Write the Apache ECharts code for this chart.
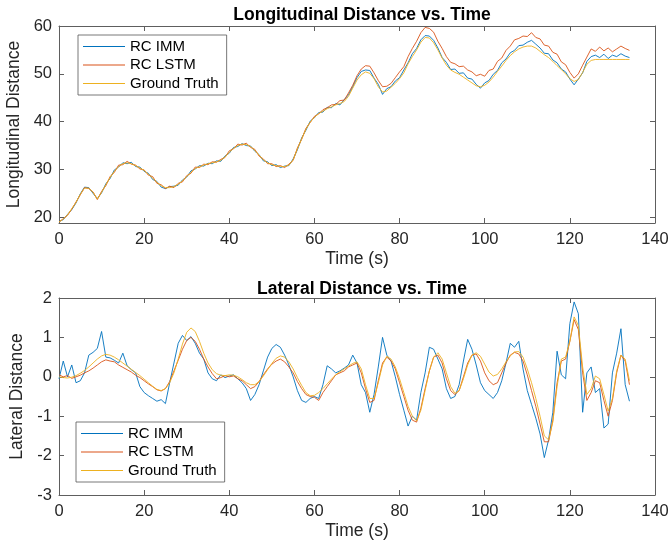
<html>
<head>
    <meta charset="utf-8">
    <title>Distance vs. Time</title>
    <script src="https://cdn.jsdelivr.net/npm/echarts@6.0.0/dist/echarts.min.js"></script>
    <style>
        body { margin: 0; background: #fff; }
        #chartmain { width: 668px; height: 545px; }
    </style>
</head>
<body>
    <div id="chartmain"></div>

    <script type="text/javascript">
        // time (s), one sample per second
        var time = [];
        for (var k = 0; k <= 134; k++) time.push(k);

        var seriesNames = ['RC IMM', 'RC LSTM', 'Ground Truth'];
        var xTicks = [0, 20, 40, 60, 80, 100, 120, 140];
        var lonTicks = [20, 30, 40, 50, 60];
        var latTicks = [-3, -2, -1, 0, 1, 2];

        // Longitudinal distance
        var lonImm = [19.1, 19.5, 20.6, 21.6, 23.0, 24.9, 26.3, 26.2, 25.0, 23.9,
            25.1, 27.0, 28.1, 29.9, 30.5, 31.4, 31.2, 31.5, 30.6, 30.5,
            29.6, 29.2, 27.9, 27.5, 26.3, 26.0, 26.4, 26.5, 26.7, 27.8,
            28.4, 29.7, 30.1, 30.8, 30.7, 31.3, 31.2, 31.8, 31.7, 32.8,
            33.4, 34.6, 34.8, 35.4, 35.0, 34.9, 33.8, 33.1, 31.8, 31.6,
            30.8, 31.0, 30.4, 30.7, 30.8, 32.2, 34.1, 36.6, 38.2, 40.1,
            40.8, 41.9, 42.0, 43.0, 42.9, 43.8, 43.5, 44.6, 45.6, 47.3,
            49.2, 50.5, 50.8, 50.7, 49.1, 47.8, 45.7, 46.9, 47.3, 48.5,
            49.2, 50.8, 52.3, 54.2, 55.3, 57.1, 58.0, 57.9, 57.0, 55.4,
            53.4, 52.4, 50.9, 51.0, 50.1, 50.2, 49.1, 48.9, 47.8, 47.0,
            48.1, 48.6, 49.9, 50.7, 52.3, 53.1, 54.4, 54.9, 55.9, 56.0,
            56.6, 57.0, 56.2, 55.4, 54.3, 54.2, 52.9, 52.3, 51.0, 50.4,
            48.9, 47.7, 48.9, 50.2, 52.6, 53.6, 53.9, 53.4, 54.1, 53.2,
            53.9, 53.6, 54.2, 53.7, 53.4];
        var lonLstm = [19.0, 19.7, 20.4, 21.7, 23.2, 24.7, 26.2, 26.0, 25.3, 23.7,
            25.4, 26.6, 28.5, 29.4, 30.9, 31.0, 31.7, 31.1, 30.9, 30.1,
            29.9, 28.8, 28.5, 27.1, 26.8, 26.0, 26.5, 26.2, 27.1, 27.4,
            28.7, 29.2, 30.5, 30.4, 31.1, 31.0, 31.6, 31.5, 32.1, 32.5,
            33.9, 34.3, 35.3, 35.1, 35.5, 34.6, 34.2, 32.8, 32.2, 31.2,
            31.2, 30.6, 30.8, 30.4, 31.1, 31.9, 34.5, 36.3, 38.6, 39.8,
            41.1, 41.6, 42.5, 42.9, 43.5, 43.6, 44.4, 44.5, 46.0, 47.6,
            49.6, 51.0, 51.7, 51.6, 50.2, 48.6, 47.3, 47.4, 48.0, 49.2,
            50.4, 51.5, 53.6, 55.3, 56.8, 58.6, 59.7, 59.5, 58.7, 56.8,
            55.3, 53.6, 52.4, 52.1, 51.5, 51.6, 50.8, 50.4, 49.6, 49.9,
            49.5, 50.7, 51.0, 52.6, 53.3, 54.9, 55.8, 57.1, 57.4, 57.9,
            57.8, 58.6, 57.6, 57.3, 56.0, 55.8, 54.5, 54.1, 52.5, 51.9,
            50.3, 49.1, 50.0, 51.8, 53.5, 55.2, 54.7, 55.6, 54.8, 55.4,
            54.6, 55.2, 55.8, 55.3, 54.9];
        var lonTruth = [19.0, 19.6, 20.5, 21.8, 23.1, 24.8, 26.1, 26.1, 25.2, 23.8,
            25.2, 26.8, 28.3, 29.6, 30.6, 31.2, 31.4, 31.2, 30.8, 30.3,
            29.8, 29.0, 28.2, 27.3, 26.6, 26.2, 26.2, 26.4, 26.9, 27.6,
            28.5, 29.4, 30.2, 30.6, 30.9, 31.2, 31.4, 31.6, 31.9, 32.6,
            33.6, 34.4, 35.0, 35.3, 35.2, 34.8, 34.0, 33.0, 32.0, 31.4,
            31.0, 30.8, 30.6, 30.6, 30.9, 32.0, 34.3, 36.4, 38.4, 39.9,
            40.9, 41.7, 42.2, 42.7, 43.1, 43.5, 43.8, 44.2, 45.3, 47.0,
            48.7, 49.8, 50.4, 50.1, 49.0, 47.3, 46.2, 46.4, 47.2, 48.0,
            49.0, 50.2, 52.1, 53.6, 55.0, 56.6, 57.6, 57.5, 56.5, 55.0,
            53.3, 51.8, 50.8, 50.3, 49.9, 49.3, 48.7, 48.1, 47.5, 47.3,
            47.6, 48.3, 49.3, 50.5, 51.6, 52.8, 53.8, 54.6, 55.2, 55.6,
            55.8, 55.8, 55.4, 54.7, 54.0, 53.4, 52.6, 51.7, 50.9, 50.0,
            49.0, 48.4, 48.8, 50.3, 52.0, 52.8, 53.0, 53.0, 53.0, 53.0,
            53.0, 53.0, 53.0, 53.0, 53.0];

        // Lateral distance
        var latImm = [-0.05, 0.4, 0.0, 0.3, -0.15, -0.1, 0.1, 0.55, 0.62, 0.72,
            1.15, 0.5, 0.48, 0.42, 0.35, 0.6, 0.28, 0.18, 0.1, -0.25,
            -0.4, -0.48, -0.55, -0.62, -0.58, -0.68, -0.15, 0.35, 0.85, 1.05,
            0.92, 1.02, 0.85, 0.6, 0.45, 0.1, -0.05, -0.1, 0.05, -0.02,
            0.02, 0.05, -0.05, -0.15, -0.3, -0.6, -0.45, -0.2, 0.15, 0.5,
            0.72, 0.82, 0.75, 0.55, 0.3, 0.0, -0.35, -0.6, -0.65, -0.55,
            -0.5, -0.55, -0.2, 0.28, 0.2, 0.1, 0.15, 0.22, 0.3, 0.55,
            0.35, -0.2, -0.4, -0.9, -0.45, 0.25, 1.0, 0.55, 0.4, 0.0,
            -0.45, -0.85, -1.25, -1.0, -1.1, -0.4, 0.1, 0.75, 0.7, 0.45,
            0.2, -0.3, -0.55, -0.5, -0.2, 0.4, 0.95, 0.7, 0.3, -0.15,
            -0.35, -0.45, -0.55, -0.4, -0.1, 0.35, 0.85, 0.75, 0.9, 0.2,
            -0.35, -0.7, -1.05, -1.45, -2.05, -1.6, -0.9, 0.65, 0.05, -0.05,
            1.35, 1.9, 1.6, -0.9, 0.1, 0.25, -0.4, -0.3, -1.3, -1.2,
            0.1, 0.6, 1.22, -0.2, -0.62];
        var latLstm = [0.05, 0.0, 0.03, -0.04, 0.0, 0.04, 0.1, 0.15, 0.22, 0.3,
            0.38, 0.43, 0.4, 0.38, 0.3, 0.24, 0.18, 0.12, 0.04, -0.02,
            -0.1, -0.18, -0.25, -0.33, -0.36, -0.3, -0.12, 0.15, 0.42, 0.7,
            0.92, 1.0, 0.9, 0.7, 0.45, 0.25, 0.08, -0.05, -0.02, 0.03,
            0.0, 0.02, -0.05, -0.1, -0.2, -0.3, -0.25, -0.12, 0.05, 0.2,
            0.32, 0.4, 0.45, 0.38, 0.25, 0.1, -0.12, -0.3, -0.45, -0.5,
            -0.52, -0.6, -0.4, -0.25, -0.1, 0.05, 0.1, 0.15, 0.25, 0.3,
            0.35, 0.1, -0.3, -0.65, -0.6, -0.1, 0.35, 0.5, 0.4, 0.2,
            -0.15, -0.5, -0.85, -1.1, -1.15, -0.8, -0.3, 0.15, 0.5, 0.55,
            0.35, -0.05, -0.35, -0.45, -0.35, 0.0, 0.35, 0.55, 0.58, 0.4,
            0.1, -0.1, -0.2, -0.15, 0.1, 0.35, 0.55, 0.62, 0.58, 0.4,
            0.05, -0.35, -0.75, -1.2, -1.65, -1.65, -1.1, -0.15, 0.4, 0.45,
            0.9, 1.45, 1.2, 0.1, -0.6, -0.4, -0.1, -0.15, -0.6, -1.0,
            -0.6, 0.1, 0.55, 0.4, -0.2];
        var latTruth = [0.0, -0.02, -0.03, -0.01, 0.03, 0.09, 0.16, 0.25, 0.35, 0.45,
            0.53, 0.57, 0.55, 0.5, 0.43, 0.35, 0.27, 0.19, 0.11, 0.03,
            -0.06, -0.15, -0.24, -0.32, -0.35, -0.3, -0.15, 0.1, 0.45, 0.83,
            1.13, 1.24, 1.15, 0.9, 0.6, 0.35, 0.18, 0.08, 0.04, 0.03,
            0.05, 0.04, 0.0, -0.07, -0.15, -0.2, -0.2, -0.12, 0.02, 0.18,
            0.34, 0.47, 0.53, 0.5, 0.38, 0.2, -0.02, -0.22, -0.4, -0.48,
            -0.47, -0.4, -0.3, -0.18, -0.06, 0.05, 0.13, 0.2, 0.27, 0.34,
            0.38, 0.2, -0.2, -0.55, -0.55, -0.15, 0.3, 0.52, 0.45, 0.25,
            -0.05, -0.4, -0.75, -1.0, -1.12, -0.85, -0.35, 0.15, 0.5, 0.61,
            0.45, 0.1, -0.25, -0.42, -0.35, -0.05, 0.3, 0.55, 0.61, 0.52,
            0.32, 0.12, 0.02, 0.06, 0.2, 0.38, 0.53, 0.63, 0.64, 0.5,
            0.2, -0.15, -0.55, -1.0, -1.5, -1.6, -1.15, -0.25, 0.45, 0.5,
            0.9, 1.52, 1.3, 0.25, -0.45, -0.3, 0.02, -0.05, -0.45, -0.87,
            -0.55, 0.15, 0.55, 0.45, -0.1];

        var colors = ['#0072BD', '#D95319', '#EDB120'];
        var font = 'Helvetica, Arial, "Liberation Sans", sans-serif';
        var axisColor = '#5e5e5e';
        var textColor = '#262626';

        function pairs(vals) {
            return time.map(function (t, i) { return [t, vals[i]]; });
        }

        function xAxisFor(gridIndex, top) {
            return {
                type: 'value', gridIndex: gridIndex, position: top ? 'top' : 'bottom',
                min: 0, max: 140, interval: 20,
                name: top ? '' : 'Time (s)', nameLocation: 'middle', nameGap: 27,
                nameTextStyle: { fontFamily: font, fontSize: 17.5, color: textColor },
                axisLine: { show: true, onZero: false, lineStyle: { color: axisColor, width: 1 } },
                axisTick: { show: true, inside: true, length: 5, lineStyle: { color: axisColor } },
                axisLabel: { show: !top, margin: 8, fontFamily: font, fontSize: 16.5, color: textColor,
                    customValues: xTicks },
                splitLine: { show: false }
            };
        }

        function yAxisFor(gridIndex, right, min, max, ticks, name) {
            return {
                type: 'value', gridIndex: gridIndex, position: right ? 'right' : 'left',
                min: min, max: max,
                name: right ? '' : name, nameLocation: 'middle', nameGap: 30,
                nameTextStyle: { fontFamily: font, fontSize: 17.5, color: textColor },
                axisLine: { show: true, onZero: false, lineStyle: { color: axisColor, width: 1 } },
                axisTick: { show: true, inside: true, length: 5, lineStyle: { color: axisColor },
                    customValues: ticks },
                axisLabel: { show: !right, margin: 7, fontFamily: font, fontSize: 16.5, color: textColor,
                    customValues: ticks },
                splitLine: { show: false }
            };
        }

        function lineSeries(name, idx, xi, yi, vals) {
            return {
                name: name, type: 'line', xAxisIndex: xi, yAxisIndex: yi,
                data: pairs(vals), showSymbol: false, symbol: 'none',
                lineStyle: { width: 0.9, color: colors[idx] }, itemStyle: { color: colors[idx] },
                animation: false
            };
        }

        function legendFor(left, top) {
            return {
                data: seriesNames.map(function (n) {
                    return { name: n, icon: 'path://M0,0H42V1H0Z' };
                }),
                orient: 'vertical', left: left, top: top,
                itemWidth: 42, itemHeight: 12, itemGap: 3.5,
                padding: [4, 8, 4, 5],
                borderColor: '#555', borderWidth: 0.8, backgroundColor: '#fff',
                textStyle: { fontFamily: font, fontSize: 15, color: '#000' },
                selectedMode: false
            };
        }

        var myChart = echarts.init(document.getElementById('chartmain'));

        myChart.setOption({
            animation: false,
            backgroundColor: '#fff',
            title: [
                { text: 'Longitudinal Distance vs. Time', left: 357, top: 1, textAlign: 'center',
                    textStyle: { fontFamily: font, fontSize: 17.5, fontWeight: 'bold', color: '#000' } },
                { text: 'Lateral Distance vs. Time', left: 357, top: 275, textAlign: 'center',
                    textStyle: { fontFamily: font, fontSize: 17.5, fontWeight: 'bold', color: '#000' } }
            ],
            legend: [legendFor(78, 35), legendFor(76, 422)],
            grid: [
                { left: 59, right: 13, top: 26, height: 197, outerBoundsMode: 'none' },
                { left: 59, right: 13, top: 298, height: 197, outerBoundsMode: 'none' }
            ],
            xAxis: [xAxisFor(0, false), xAxisFor(0, true), xAxisFor(1, false), xAxisFor(1, true)],
            yAxis: [
                yAxisFor(0, false, 18.8, 60, lonTicks, 'Longitudinal Distance'),
                yAxisFor(0, true, 18.8, 60, lonTicks, ''),
                yAxisFor(1, false, -3, 2, latTicks, 'Lateral Distance'),
                yAxisFor(1, true, -3, 2, latTicks, '')
            ],
            series: [
                lineSeries('RC IMM', 0, 0, 0, lonImm),
                lineSeries('RC LSTM', 1, 0, 0, lonLstm),
                lineSeries('Ground Truth', 2, 0, 0, lonTruth),
                lineSeries('RC IMM', 0, 2, 2, latImm),
                lineSeries('RC LSTM', 1, 2, 2, latLstm),
                lineSeries('Ground Truth', 2, 2, 2, latTruth)
            ]
        });
    </script>
</body>
</html>
